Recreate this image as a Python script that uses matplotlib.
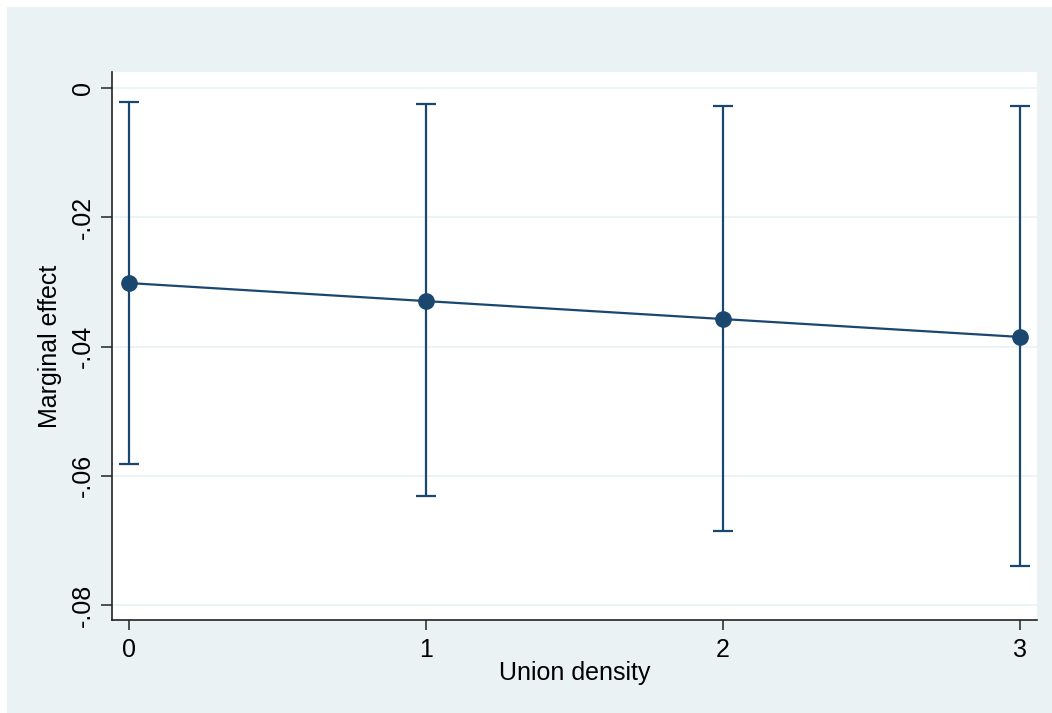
import numpy as np
import matplotlib.pyplot as plt
from matplotlib.patches import Rectangle

# union density values and marginal effects with 95% CI
union_density = [0, 1, 2, 3]
effect = [-0.03016, -0.03295, -0.03573, -0.0385]
ci_upper = [-0.00217, -0.00247, -0.00278, -0.00278]
ci_lower = [-0.05816, -0.06311, -0.06852, -0.07393]
y_ticks = [0, -0.02, -0.04, -0.06, -0.08]
y_tick_labels = ['0', '-.02', '-.04', '-.06', '-.08']

navy = '#1A476F'
bg = '#EAF2F3'

plt.rcParams['font.family'] = ['Liberation Sans', 'DejaVu Sans']

fig = plt.figure(figsize=(10.52, 7.13), dpi=100, facecolor='white')
# outer light background
fig.add_artist(Rectangle((7 / 1052, 0), 1 - 7 / 1052, 1 - 7 / 713,
                         transform=fig.transFigure, facecolor=bg,
                         edgecolor='none', zorder=-10))

ax = fig.add_axes([112 / 1052, 1 - 620 / 713, (1037 - 112) / 1052, (620 - 72) / 713])
ax.set_facecolor('white')

eff = np.array(effect)
yerr = [eff - np.array(ci_lower), np.array(ci_upper) - eff]
ax.errorbar(union_density, effect, yerr=yerr, fmt='o-', color=navy,
            ecolor=navy, elinewidth=1.6, capsize=7, capthick=1.6,
            markersize=11, linewidth=1.6, zorder=3)

ax.set_xlim(-0.057, 3.057)
ax.set_ylim(-0.0823, 0.0025)
ax.set_yticks(y_ticks)
ax.set_yticklabels(y_tick_labels, rotation=90, va='center')
ax.set_xticks(union_density)
ax.set_xticklabels([str(v) for v in union_density])
ax.grid(axis='y', color=bg, linewidth=1.2, zorder=0)
ax.set_axisbelow(True)

for side in ['top', 'right']:
    ax.spines[side].set_visible(False)
for side in ['left', 'bottom']:
    ax.spines[side].set_color('#222222')
    ax.spines[side].set_linewidth(1.2)

ax.tick_params(axis='y', length=8, width=1.2, color='#333333', labelsize=18, pad=4)
ax.tick_params(axis='x', length=7, width=1.2, color='#333333', labelsize=18, pad=6)

ax.set_ylabel('Marginal effect', fontsize=18, va='center')
ax.set_xlabel('Union density', fontsize=18, va='center')
ax.yaxis.set_label_coords(-0.067, 0.5)
ax.xaxis.set_label_coords(0.5, -0.097)

fig.savefig('out.png', dpi=100, facecolor=fig.get_facecolor())
